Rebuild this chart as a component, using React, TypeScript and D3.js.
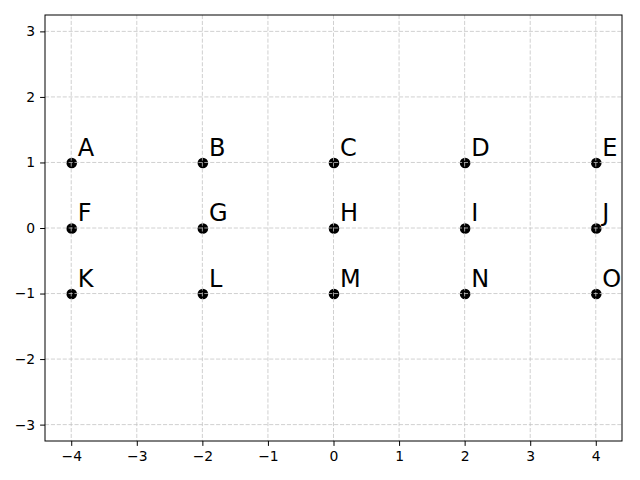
import React, { useEffect, useRef } from 'react';
import * as d3 from 'd3';

const xs = [-4, -2, 0, 2, 4];
const ys = [1, 0, -1];
const labels = ['A', 'B', 'C', 'D', 'E', 'F', 'G', 'H', 'I', 'J', 'K', 'L', 'M', 'N', 'O'];
const xTicks = [-4, -3, -2, -1, 0, 1, 2, 3, 4];
const yTicks = [-3, -2, -1, 0, 1, 2, 3];

const w = 640;
const h = 480;
const margin = { left: 45, right: 18, top: 15, bottom: 39 };

const App = () => {
  const svgRef = useRef<SVGSVGElement>(null);

  useEffect(() => {
    const svg = d3.select(svgRef.current);
    svg.selectAll('*').remove();

    const points = [] as { x: number; y: number; label: string }[];
    ys.forEach((y, i) => xs.forEach((x, j) => points.push({ x, y, label: labels[i * xs.length + j] })));

    const xScale = d3.scaleLinear().domain([-4.4, 4.4]).range([margin.left, w - margin.right]);
    const yScale = d3.scaleLinear().domain([-3.25, 3.25]).range([h - margin.bottom, margin.top]);
    const fmt = (d: number) => (d < 0 ? '\u2212' + Math.abs(d) : String(d));

    svg.append('rect')
      .attr('width', w).attr('height', h).attr('fill', 'white');

    svg.append('g')
      .selectAll('circle')
      .data(points)
      .join('circle')
      .attr('cx', (d) => xScale(d.x) + 0.5)
      .attr('cy', (d) => yScale(d.y) + 0.5)
      .attr('r', 5.3)
      .attr('fill', 'black');

    svg.append('g')
      .selectAll('text')
      .data(points)
      .join('text')
      .attr('x', (d) => xScale(d.x + 0.1))
      .attr('y', (d) => yScale(d.y + 0.1))
      .attr('font-family', 'DejaVu Sans')
      .attr('font-size', 24)
      .attr('fill', 'black')
      .text((d) => d.label);

    // grid lies over the markers
    const grid = svg.append('g')
      .attr('stroke', '#c4c4c4')
      .attr('stroke-width', 0.8)
      .attr('stroke-dasharray', '4.1,1.8');
    grid.selectAll('.gx').data(xTicks).join('line')
      .attr('x1', (d) => xScale(d)).attr('x2', (d) => xScale(d))
      .attr('y1', margin.top).attr('y2', h - margin.bottom);
    grid.selectAll('.gy').data(yTicks).join('line')
      .attr('y1', (d) => yScale(d)).attr('y2', (d) => yScale(d))
      .attr('x1', margin.left).attr('x2', w - margin.right);

    const xAxis = d3.axisBottom(xScale).tickValues(xTicks).tickFormat(fmt).tickSize(4.9).tickPadding(4.9);
    const yAxis = d3.axisLeft(yScale).tickValues(yTicks).tickFormat(fmt).tickSize(4.9).tickPadding(4.9);

    const gx = svg.append('g')
      .attr('transform', 'translate(0,' + (h - margin.bottom) + ')')
      .call(xAxis);
    const gy = svg.append('g')
      .attr('transform', 'translate(' + margin.left + ',0)')
      .call(yAxis);
    [gx, gy].forEach((g) => {
      g.select('.domain').remove();
      g.selectAll('text').attr('font-family', 'DejaVu Sans').attr('font-size', 13.9).attr('fill', 'black');
      g.selectAll('line').attr('stroke', 'black').attr('stroke-width', 1);
    });

    svg.append('rect')
      .attr('x', margin.left).attr('y', margin.top)
      .attr('width', w - margin.left - margin.right)
      .attr('height', h - margin.top - margin.bottom)
      .attr('fill', 'none').attr('stroke', 'black').attr('stroke-width', 1);
  }, []);

  return (
    <div style={{ margin: -8 }}>
      <svg ref={svgRef} width={w} height={h} style={{ display: 'block' }}></svg>
    </div>
  );
};

export default App;
